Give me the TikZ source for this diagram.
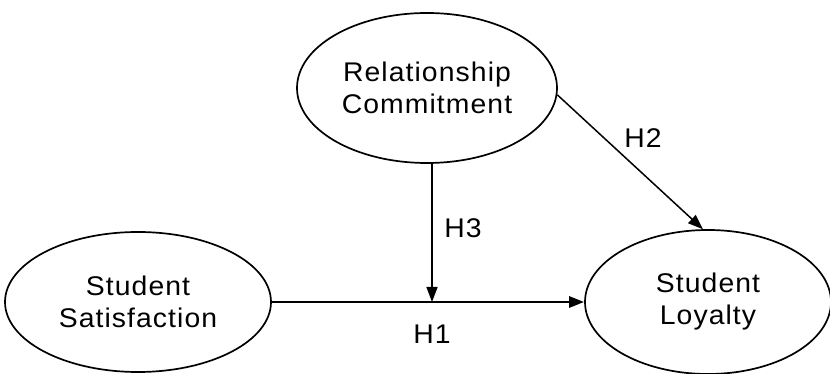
\documentclass[tikz,border=0pt]{standalone}
\usepackage{fontspec}
\setmainfont{Liberation Sans}[FakeStretch=1.05,LetterSpace=4]
\usetikzlibrary{shapes.geometric,arrows.meta}
\begin{document}
\begin{tikzpicture}[x=1pt,y=1pt,
  latent/.style={ellipse,draw,line width=1.7pt,inner sep=0pt,align=center,font=\fontsize{27}{32}\selectfont},
  pathline/.style={line width=1.5pt,-{Triangle[length=15pt,width=11pt]}},
  hyp/.style={font=\fontsize{27}{32}\selectfont}]
\useasboundingbox[fill=white] (0,0) rectangle (830,374);
\node[latent,minimum width=260pt,minimum height=150pt] (com) at (427,286) {Relationship\\Commitment};
\node[latent,minimum width=266pt,minimum height=140pt] (sat) at (138,72) {Student\\Satisfaction};
\node[latent,minimum width=246pt,minimum height=144pt] (loy) at (708,72) {Student\\Loyalty};
\coordinate (m) at (432,72);
\draw[pathline,line width=2.8pt] (sat.east) -- (loy.west);
\draw[pathline] (com.south -| m) -- (m);
\draw[pathline] (com.-3) -- (loy.94);
\node[hyp] (h1) at (432,40) {H1};
\node[hyp] (h2) at (643,236) {H2};
\node[hyp] (h3) at (463,146) {H3};
\end{tikzpicture}
\end{document}
